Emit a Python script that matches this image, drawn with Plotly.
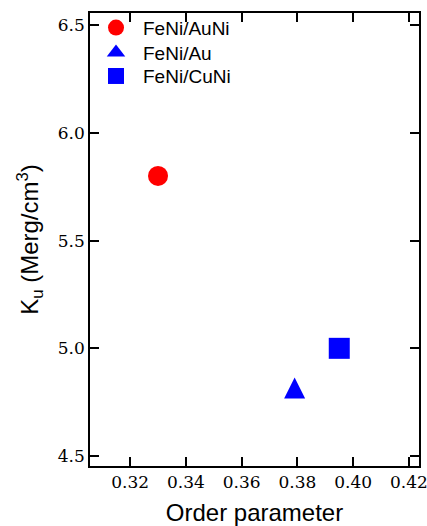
import plotly.graph_objects as go

series_names = ["FeNi/AuNi", "FeNi/Au", "FeNi/CuNi"]
order_param = [[0.330], [0.379], [0.395]]
ku_values = [[5.80], [4.80], [5.00]]
colors = ["#ff0000", "#0000ff", "#0000ff"]
legend_ids = ["legend", "legend2", "legend3"]
legend_y = [1.0095, 0.9545, 0.9026]

x_ticks = [0.32, 0.34, 0.36, 0.38, 0.40, 0.42]
x_ticklabels = ["0.32", "0.34", "0.36", "0.38", "0.40", "0.42"]
y_ticks = [4.5, 5.0, 5.5, 6.0, 6.5]
y_ticklabels = ["4.5", "5.0", "5.5", "6.0", "6.5"]

# marker styles in the plot: circle, tall triangle (flipped arrow), square
marker_styles = [
    dict(symbol="circle", size=20),
    dict(symbol="arrow-down", size=21, angle=180, standoff=14),
    dict(symbol="square", size=21),
]
# symbols shown in the legend
legend_symbols = ["circle", "triangle-up", "square"]

fig = go.Figure()
for name, xs, ys, ms, lsym, col, lid in zip(series_names, order_param, ku_values,
                                            marker_styles, legend_symbols, colors, legend_ids):
    fig.add_trace(go.Scatter(
        x=xs, y=ys, mode="markers", name=name, showlegend=False,
        marker=dict(color=col, line=dict(width=0), **ms),
    ))
    # legend entry (no data points of its own)
    fig.add_trace(go.Scatter(
        x=[None], y=[None], mode="markers", name=name, legend=lid,
        marker=dict(color=col, symbol=lsym, size=16, line=dict(width=0)),
    ))

sans = "Liberation Sans"
serif = "DejaVu Serif"

axis_common = dict(
    showline=True, linecolor="black", linewidth=1.5, mirror="ticks",
    ticks="inside", ticklen=9, tickwidth=1.5, tickcolor="black",
    showgrid=False, zeroline=False, ticklabeloverflow="allow",
    automargin=False,
    tickfont=dict(family=serif, size=17, color="black"),
)

legend_common = dict(
    x=-0.003, xanchor="left", yanchor="top",
    bgcolor="rgba(0,0,0,0)", font=dict(family=sans, size=19, color="black"),
    itemsizing="trace", itemwidth=44,
)

fig.update_layout(
    width=427, height=526,
    margin=dict(l=90, r=8, t=13, b=60),
    paper_bgcolor="white", plot_bgcolor="white",
    font=dict(color="black"),
    showlegend=True,
    legend=dict(y=legend_y[0], **legend_common),
    legend2=dict(y=legend_y[1], **legend_common),
    legend3=dict(y=legend_y[2], **legend_common),
    xaxis=dict(
        range=[0.3056, 0.4236], tickvals=x_ticks, ticktext=x_ticklabels,
        title=dict(text="Order parameter", font=dict(family=sans, size=24, color="black"), standoff=15),
        **axis_common,
    ),
    yaxis=dict(
        range=[4.454, 6.556], tickvals=y_ticks, ticktext=y_ticklabels,
        title=dict(text="K<sub>u</sub> (Merg/cm<sup>3</sup>)", font=dict(family=sans, size=24, color="black"), standoff=12),
        **axis_common,
    ),
)

fig.write_html("out.html", config={"displayModeBar": False},
               post_script="document.body.style.margin='0px';")
